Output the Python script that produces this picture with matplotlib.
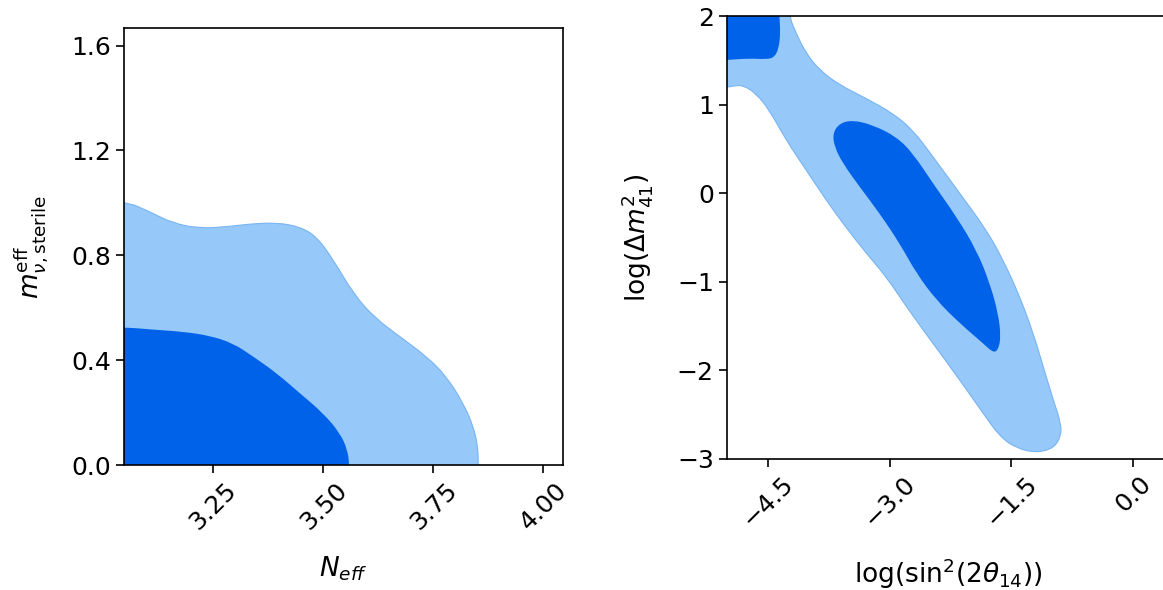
import matplotlib
matplotlib.use('Agg')
import matplotlib.pyplot as plt
import numpy as np
from matplotlib.path import Path
from matplotlib.patches import PathPatch

# contour outlines (data units)
# left panel: N_eff vs m_eff sterile
neff_outer = [2.90, 2.90, 3.049, 3.106, 3.159, 3.220, 3.280, 3.333, 3.394, 3.447, 3.485,
              3.523, 3.568, 3.614, 3.674, 3.735, 3.780, 3.818, 3.841, 3.851, 3.852, 3.852]
mnu_outer = [-0.10, 1.010, 1.008, 0.966, 0.922, 0.903, 0.909, 0.920, 0.925, 0.909, 0.871,
             0.782, 0.655, 0.566, 0.490, 0.414, 0.338, 0.236, 0.147, 0.071, 0.0, -0.10]
neff_inner = [2.90, 2.90, 3.049, 3.106, 3.182, 3.242, 3.295, 3.341, 3.394, 3.447, 3.500,
              3.538, 3.555, 3.559, 3.559]
mnu_inner = [-0.10, 0.527, 0.526, 0.518, 0.509, 0.494, 0.465, 0.414, 0.351, 0.274, 0.198,
             0.122, 0.058, 0.0, -0.10]

# right panel: log(sin^2 2theta14) vs log(dm41^2)
th_outer = [-5.20, -4.240, -4.232, -4.150, -4.027, -3.862, -3.616, -3.287, -2.959, -2.712,
            -2.466, -2.136, -1.807, -1.602, -1.397, -1.232, -1.109, -0.986, -0.891, -0.891,
            -0.986, -1.191, -1.437, -1.643, -1.849, -2.136, -2.466, -2.794, -3.040, -3.287,
            -3.575, -3.780, -4.027, -4.273, -4.479, -4.643, -4.808, -4.932, -5.000, -5.20]
dm_outer = [2.20, 2.20, 1.990, 1.805, 1.579, 1.390, 1.221, 1.070, 0.901, 0.712,
            0.411, -0.003, -0.417, -0.756, -1.170, -1.584, -1.961, -2.337, -2.600, -2.751,
            -2.883, -2.932, -2.883, -2.751, -2.487, -2.111, -1.697, -1.283, -0.944, -0.680,
            -0.341, -0.078, 0.261, 0.600, 0.938, 1.127, 1.221, 1.209, 1.195, 1.19]
th_blob = [-5.20, -4.355, -4.356, -4.343, -4.364, -4.417, -4.520, -4.726, -5.000, -5.20]
dm_blob = [2.20, 2.20, 1.990, 1.805, 1.635, 1.533, 1.511, 1.522, 1.503, 1.50]
th_core = [-3.699, -3.616, -3.452, -3.205, -2.917, -2.712, -2.466, -2.177, -1.930, -1.766,
           -1.664, -1.630, -1.664, -1.726, -1.849, -2.136, -2.425, -2.670, -2.876, -3.123,
           -3.369, -3.575, -3.678]
dm_core = [0.675, 0.788, 0.825, 0.769, 0.637, 0.449, 0.110, -0.267, -0.643, -1.019,
           -1.358, -1.622, -1.772, -1.802, -1.697, -1.471, -1.208, -0.906, -0.567, -0.228,
           0.072, 0.336, 0.524]

dark = '#0062E8'
light = '#96C8FA'
edge = '#78B4F2'


def smooth_patch(xs, ys, **kw):
    pts = np.column_stack([xs, ys])
    mids = (pts + np.roll(pts, -1, axis=0)) / 2
    verts = [mids[-1]]
    codes = [Path.MOVETO]
    for p, m in zip(pts, mids):
        verts += [p, m]
        codes += [Path.CURVE3, Path.CURVE3]
    verts.append(mids[-1])
    codes.append(Path.CLOSEPOLY)
    return PathPatch(Path(verts, codes), **kw)


def style(ax):
    for s in ax.spines.values():
        s.set_linewidth(1.2)
    ax.tick_params(labelsize=18, length=6, width=1.2)
    ax.tick_params(axis='x', labelrotation=45)


fig = plt.figure(figsize=(11.63, 5.90), dpi=100)

ax1 = fig.add_axes([0.1066, 0.2114, 0.3777, 0.7412])
ax1.add_patch(smooth_patch(neff_outer, mnu_outer, facecolor=light, edgecolor=edge, lw=0.8))
ax1.add_patch(smooth_patch(neff_inner, mnu_inner, facecolor=dark, edgecolor='none'))
ax1.set_xlim(3.047, 4.045)
ax1.set_ylim(0, 1.667)
ax1.set_xticks([3.25, 3.50, 3.75, 4.00])
ax1.set_yticks([0.0, 0.4, 0.8, 1.2, 1.6])
style(ax1)
ax1.set_xlabel(r'$N_{eff}$', fontsize=19)
ax1.set_ylabel(r'$m_{\nu,\mathrm{sterile}}^{\mathrm{eff}}$', fontsize=19)
ax1.xaxis.set_label_coords(0.5, -0.205)
ax1.yaxis.set_label_coords(-0.168, 0.5)

ax2 = fig.add_axes([0.6251, 0.2225, 0.3809, 0.7503])
ax2.add_patch(smooth_patch(th_outer, dm_outer, facecolor=light, edgecolor=edge, lw=0.8))
ax2.add_patch(smooth_patch(th_blob, dm_blob, facecolor=dark, edgecolor='none'))
ax2.add_patch(smooth_patch(th_core, dm_core, facecolor=dark, edgecolor='none'))
ax2.set_xlim(-5.0, 0.45)
ax2.set_ylim(-3, 2)
ax2.set_xticks([-4.5, -3.0, -1.5, 0.0])
ax2.set_yticks([-3, -2, -1, 0, 1, 2])
style(ax2)
ax2.set_xlabel(r'$\mathrm{log}(\mathrm{sin}^2(2\theta_{14}))$', fontsize=19)
ax2.set_ylabel(r'$\mathrm{log}(\Delta m_{41}^2)$', fontsize=19)
ax2.xaxis.set_label_coords(0.5, -0.22)
ax2.yaxis.set_label_coords(-0.163, 0.5)

fig.savefig('out.png', dpi=100)
